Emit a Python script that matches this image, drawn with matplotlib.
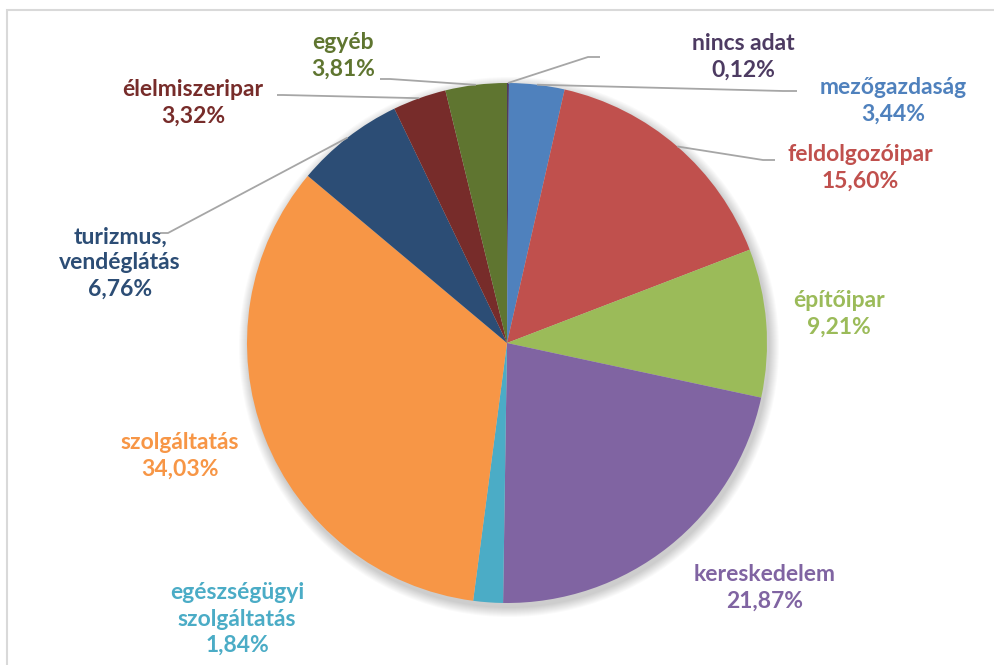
import numpy as np
import matplotlib
matplotlib.use('Agg')
import matplotlib.pyplot as plt
from matplotlib.patches import Rectangle, Circle

# data (clockwise from 12 o'clock)
labels = ['nincs adat', 'mezőgazdaság', 'feldolgozóipar', 'építőipar', 'kereskedelem',
          'egészségügyi\nszolgáltatás', 'szolgáltatás', 'turizmus,\nvendéglátás',
          'élelmiszeripar', 'egyéb']
values = [0.12, 3.44, 15.60, 9.21, 21.87, 1.84, 34.03, 6.76, 3.32, 3.81]
colors = ['#4D3B62', '#4F81BD', '#C0504D', '#9BBB59', '#8064A2',
          '#4BACC6', '#F79646', '#2C4D75', '#772C2A', '#5F7530']

W, H = 995, 665
fig = plt.figure(figsize=(W / 100, H / 100), dpi=100)
ax = fig.add_axes([0, 0, 1, 1])
ax.set_xlim(0, W)
ax.set_ylim(0, H)
ax.set_aspect('equal')
ax.axis('off')

# chart frame
fig.patches.append(Rectangle((7 / W, -0.1), 1.2, (H - 10) / H + 0.1, transform=fig.transFigure,
                             fill=False, edgecolor='#d9d9d9', linewidth=1.5))

cx, cy, r = 507, H - 343, 260

# soft shadow
for k in range(10):
    ax.add_patch(Circle((cx + 2, cy - 4), r + 10 - k, color='#000000', alpha=0.018, lw=0, zorder=1))

wedges, _ = ax.pie(values, colors=colors, startangle=90, counterclock=False,
                   center=(cx, cy), radius=r, frame=True,
                   wedgeprops=dict(linewidth=0, zorder=2))
ax.set_xlim(0, W)
ax.set_ylim(0, H)
ax.axis('off')

# label centres in pixel coords (x, y from top)
label_pos = [(743, 57), (893, 101), (860, 168), (839, 314), (765, 588),
             (237, 619), (180, 456), (120, 263), (193, 103), (343, 56)]
# leader lines: elbow point and end of horizontal stub (pixel coords)
leaders = {0: ((588, 57), (600, 57)),
           1: ((783, 91), (797, 91)),
           2: ((763, 160), (775, 160)),
           7: ((168, 233), (160, 233)),
           8: ((283, 95), (277, 95)),
           9: ((390, 79), (380, 79))}

for i, (lab, v, c) in enumerate(zip(labels, values, colors)):
    txt = lab + '\n' + f'{v:.2f}'.replace('.', ',') + '%'
    x, y = label_pos[i]
    ax.text(x, H - y, txt, ha='center', va='center', color=c, fontsize=16.5,
            fontweight='bold', family='Lato', linespacing=1.3, zorder=5)
    if i in leaders:
        w = wedges[i]
        mid = np.deg2rad((w.theta1 + w.theta2) / 2)
        ex, ey = cx + r * np.cos(mid), cy + r * np.sin(mid)
        (bx, by), (sx, sy) = leaders[i]
        ax.plot([ex, bx, sx], [ey, H - by, H - sy], color='#a6a6a6', lw=1.3, zorder=4,
                solid_capstyle='butt')

fig.savefig('out.png', dpi=100, facecolor='white')
